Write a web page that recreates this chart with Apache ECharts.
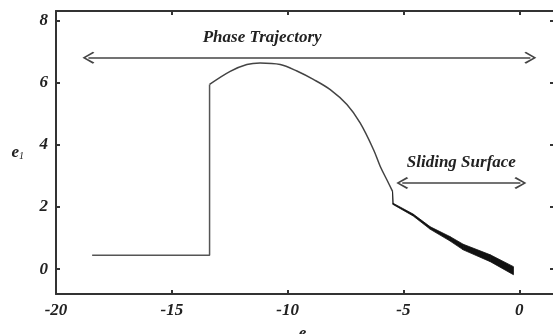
<!DOCTYPE html>
<html>
<head>
<meta charset="utf-8">
<script src="https://cdn.jsdelivr.net/npm/echarts@6/dist/echarts.min.js"></script>
<style>html,body{margin:0;padding:0;background:#fff}#c{width:553px;height:334px}</style>
</head>
<body>
<div id="c"></div>
<script>
const xTicks = [-20, -15, -10, -5, 0];
const yTicks = [0, 2, 4, 6, 8];
// approach phase: step part and curved part
const stepX = [-18.44, -13.37, -13.37];
const stepY = [0.45, 0.45, 5.94];
const curveX = [-13.37, -12.48, -11.76, -11.19, -10.32, -9.6, -8.89, -8.16, -7.44, -6.87, -6.29, -6.0, -5.7, -5.47];
const curveY = [5.94, 6.36, 6.58, 6.63, 6.58, 6.37, 6.1, 5.77, 5.29, 4.7, 3.84, 3.3, 2.85, 2.5];
// sliding phase (chattering band): centre and half thickness
const slideX = [-5.47, -5.45, -4.58, -3.84, -3.0, -2.42, -1.25, -0.25];
const slideY = [2.5, 2.1, 1.74, 1.32, 0.98, 0.71, 0.35, -0.05];
const slideHalf = [0.01, 0.02, 0.03, 0.04, 0.07, 0.09, 0.11, 0.13];
// annotations
const phaseArrowX = [-18.6, 0.48], phaseArrowY = 6.8;
const slideArrowX = [-5.05, 0.05], slideArrowY = 2.77;
const phaseText = {x: -11.1, y: 7.45, text: 'Phase Trajectory'};
const slideText = {x: -2.5, y: 3.42, text: 'Sliding Surface'};

const FONT = 'Liberation Serif';
const labelStyle = {fontFamily: FONT, fontWeight: 'bold', fontStyle: 'italic', fontSize: 17, color: '#222'};
const chev = 'path://M5,0 L10,8 L9,9.2 L5,2.4 L1,9.2 L0,8 Z';

const step = stepX.map((x, i) => [x, stepY[i]]);
const curve = curveX.map((x, i) => [x, curveY[i]]);
const slide = slideX.map((x, i) => [x, slideY[i], slideHalf[i]]);

const chart = echarts.init(document.getElementById('c'));
const axisLine = {onZero: false, lineStyle: {color: '#333', width: 2}};
const tick = (vals) => ({show: true, inside: true, length: 4, customValues: vals, lineStyle: {color: '#333', width: 2}});
const nameRich = {e: {fontFamily: FONT, fontStyle: 'italic', fontWeight: 'bold', fontSize: 17, color: '#222'}, s: {fontFamily: FONT, fontStyle: 'italic', fontSize: 10, color: '#222', verticalAlign: 'bottom', padding: [8,0,0,0]}};
chart.setOption({
  animation: false,
  grid: {left: 56, right: -1, top: 11, bottom: 40, containLabel: false, outerBoundsMode: 'none'},
  xAxis: [{
    type: 'value', position: 'bottom', min: -20, max: 1.5,
    axisLine: axisLine, axisTick: tick(xTicks), splitLine: {show: false},
    axisLabel: Object.assign({customValues: xTicks, margin: 8}, labelStyle),
    name: '{e|e}{s|2}', nameLocation: 'middle', nameGap: 31,
    nameTextStyle: {rich: nameRich}
  }, {
    type: 'value', position: 'top', min: -20, max: 1.5,
    axisLine: axisLine, axisTick: tick(xTicks), axisLabel: {show: false}, splitLine: {show: false}
  }],
  yAxis: [{
    type: 'value', position: 'left', min: -0.8, max: 8.3,
    axisLine: axisLine, axisTick: tick(yTicks), splitLine: {show: false},
    axisLabel: Object.assign({customValues: yTicks, margin: 8}, labelStyle),
    name: '{e|e}{s|1}', nameLocation: 'middle', nameGap: 32, nameRotate: 0,
    nameTextStyle: {rich: nameRich}
  }, {
    type: 'value', position: 'right', min: -0.8, max: 8.3,
    axisLine: {show: false, onZero: false}, axisTick: tick(yTicks), axisLabel: {show: false}, splitLine: {show: false}
  }],
  series: [{
    type: 'line', data: step, showSymbol: false, symbol: 'none',
    lineStyle: {color: '#555', width: 1.5},
    markLine: {
      silent: true, symbol: [chev, chev], symbolSize: [12, 12],
      lineStyle: {color: '#444', width: 1.5, type: 'solid'}, label: {show: false},
      data: [
        [{coord: [phaseArrowX[0], phaseArrowY]}, {coord: [phaseArrowX[1], phaseArrowY]}],
        [{coord: [slideArrowX[0], slideArrowY]}, {coord: [slideArrowX[1], slideArrowY]}]
      ]
    },
    markPoint: {
      silent: true, symbol: 'circle', symbolSize: 0,
      label: Object.assign({show: true, position: 'inside', formatter: p => p.name}, labelStyle),
      data: [
        {name: phaseText.text, coord: [phaseText.x, phaseText.y]},
        {name: slideText.text, coord: [slideText.x, slideText.y]}
      ]
    }
  }, {
    type: 'line', data: curve, showSymbol: false, symbol: 'none', smooth: 0.35,
    lineStyle: {color: '#444', width: 1.5}
  }, {
    type: 'custom', data: slide,
    renderItem: function (params, api) {
      const i = params.dataIndex;
      if (i >= slide.length - 1) return null;
      const a = slide[i], b = slide[i + 1];
      const pts = [
        api.coord([a[0], a[1] + a[2]]), api.coord([b[0], b[1] + b[2]]),
        api.coord([b[0], b[1] - b[2]]), api.coord([a[0], a[1] - a[2]])
      ];
      return {type: 'polygon', shape: {points: pts}, style: {fill: '#111', stroke: '#111', lineWidth: 0.8}};
    }
  }]
});
</script>
</body>
</html>
